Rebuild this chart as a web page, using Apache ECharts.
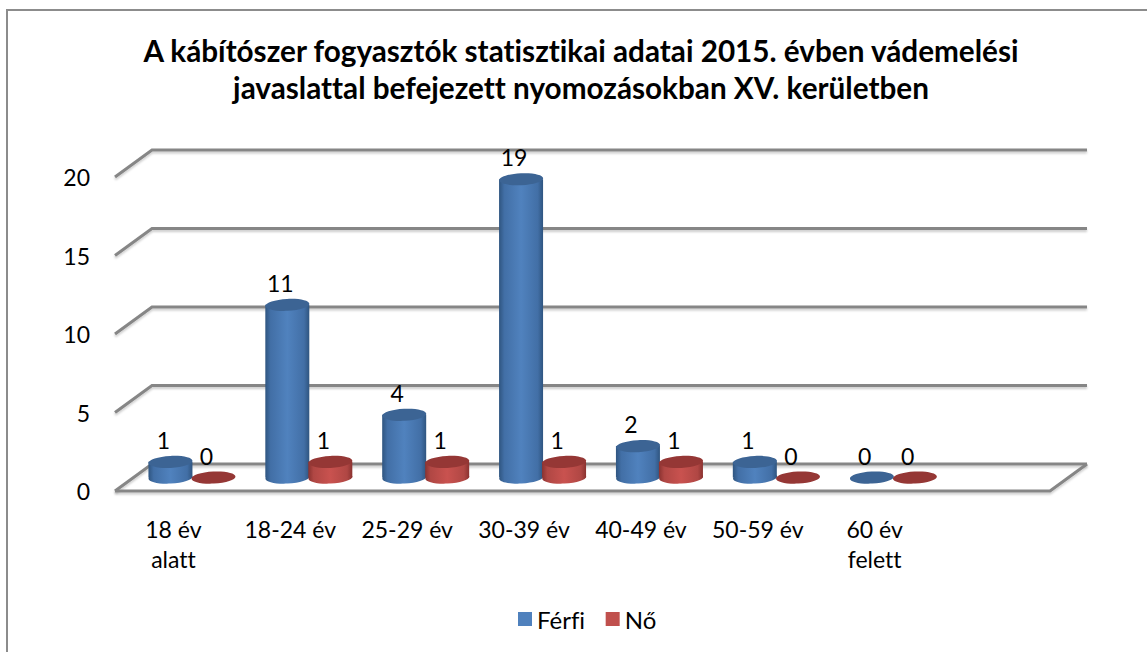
<!DOCTYPE html>
<html>
<head>
<meta charset="utf-8">
<style>
  html, body { margin: 0; padding: 0; background: #fff; }
  #main { width: 1147px; height: 652px; }
  #main text { font-variant-ligatures: none; }
</style>
<script src="https://cdn.jsdelivr.net/npm/echarts@6/dist/echarts.min.js"></script>
</head>
<body>
<div id="main"></div>
<script>
const titleText = 'A kábítószer fogyasztók statisztikai adatai 2015. évben vádemelési\njavaslattal befejezett nyomozásokban XV. kerületben'
const categories = ['18 év\nalatt', '18-24 év', '25-29 év', '30-39 év', '40-49 év', '50-59 év', '60 év\nfelett', '']
const ferfi = [1, 11, 4, 19, 2, 1, 0]
const no = [0, 1, 1, 1, 1, 0, 0]
const yTicks = [0, 5, 10, 15, 20]

const font = 'Lato'
const depthX = 37
const depthY = -27
const gridColor = '#868686'

// padlo es hatfal vonalai, a melyseget kezzel toljuk el
const renderWall = (params, api) => {
  const box = params.coordSys
  const tick = api.value(1)
  const y = api.coord([0, tick])[1]
  const left = box.x
  const right = box.x + box.width
  const style = {
    stroke: gridColor,
    lineWidth: 3,
    fill: null,
    shadowColor: 'rgba(0,0,0,0.2)',
    shadowBlur: 2,
    shadowOffsetY: 2,
  }
  const children = [{
    type: 'polyline',
    shape: { points: [[left, y], [left + depthX, y + depthY], [right + depthX, y + depthY]] },
    style,
  }]
  if (tick === 0) {
    children.push({
      type: 'polyline',
      shape: { points: [[left, y], [right, y], [right + depthX, y + depthY]] },
      style,
    })
  }
  return { type: 'group', children }
}

const cylinder = (offset, colors) => (params, api) => {
  const value = api.value(1)
  const base = api.coord([api.value(0), 0])
  const top = api.coord([api.value(0), value])
  const cx = base[0] + depthX / 2 + offset
  const baseY = base[1] + depthY / 2
  const topY = top[1] + depthY / 2
  const rx = 22
  const ry = 6
  const tilt = 0.05
  const body = new echarts.graphic.LinearGradient(0, 0, 1, 0, [
    { offset: 0, color: colors.edge },
    { offset: 0.12, color: colors.mid },
    { offset: 0.5, color: colors.light },
    { offset: 0.88, color: colors.mid },
    { offset: 1, color: colors.edge },
  ])
  const children = []
  if (value > 0) {
    children.push({
      type: 'rect',
      shape: { x: cx - rx, y: topY, width: rx * 2, height: baseY - topY },
      style: { fill: body },
    }, {
      type: 'ellipse',
      rotation: tilt,
      originX: cx,
      originY: baseY,
      shape: { cx, cy: baseY, rx, ry },
      style: { fill: body },
    })
  }
  children.push({
    type: 'ellipse',
    rotation: tilt,
    originX: cx,
    originY: topY,
    shape: { cx, cy: topY, rx, ry },
    style: { fill: colors.top },
  }, {
    type: 'text',
    style: {
      x: cx - 7,
      y: topY - 22,
      text: String(value),
      fill: '#000',
      font: '23px ' + font,
      align: 'center',
      verticalAlign: 'middle',
    },
  })
  return { type: 'group', children }
}

const blue = { edge: '#2f5580', mid: '#426fa6', light: '#5082be', top: '#3c6494' }
const red = { edge: '#8a3230', mid: '#b04744', light: '#c9524f', top: '#953735' }

const chart = echarts.init(document.getElementById('main'), null, { renderer: 'svg' })
chart.setOption({
  animation: false,
  backgroundColor: '#fff',
  title: {
    text: titleText,
    left: 576,
    top: 27,
    textAlign: 'center',
    textStyle: { fontFamily: font, fontSize: 29.7, fontWeight: 'bold', lineHeight: 37, color: '#000' },
  },
  legend: {
    data: ['Férfi', 'Nő'],
    left: 513,
    top: 602,
    icon: 'rect',
    itemWidth: 14,
    itemHeight: 14,
    itemGap: 21,
    textStyle: { fontFamily: font, fontSize: 24, color: '#000' },
  },
  graphic: [{
    type: 'polyline',
    silent: true,
    shape: { points: [[7, 652], [7, 10], [1147, 10]] },
    style: { stroke: '#8c8c8c', lineWidth: 2, fill: null },
  }],
  grid: { left: 115, right: 97, top: 177, bottom: 161 },
  xAxis: {
    type: 'category',
    data: categories,
    axisLine: { show: false },
    axisTick: { show: false },
    axisLabel: { interval: 0, margin: 23, fontFamily: font, fontSize: 23, lineHeight: 30, color: '#000' },
  },
  yAxis: {
    type: 'value',
    min: 0,
    max: 20,
    interval: 5,
    axisLine: { show: false },
    axisTick: { show: false },
    splitLine: { show: false },
    axisLabel: { margin: 25, padding: [3, 0, 0, 0], fontFamily: font, fontSize: 23, color: '#000' },
  },
  series: [
    {
      name: 'fal',
      type: 'custom',
      silent: true,
      z: 1,
      renderItem: renderWall,
      encode: { x: 0, y: 1 },
      data: yTicks.map((t) => [0, t]),
    },
    {
      name: 'Férfi',
      type: 'custom',
      z: 2,
      itemStyle: { color: '#4f81bd' },
      renderItem: cylinder(-21.5, blue),
      encode: { x: 0, y: 1 },
      data: ferfi.map((v, i) => [i, v]),
    },
    {
      name: 'Nő',
      type: 'custom',
      z: 3,
      itemStyle: { color: '#c0504d' },
      renderItem: cylinder(21.5, red),
      encode: { x: 0, y: 1 },
      data: no.map((v, i) => [i, v]),
    },
  ],
})
</script>
</body>
</html>
